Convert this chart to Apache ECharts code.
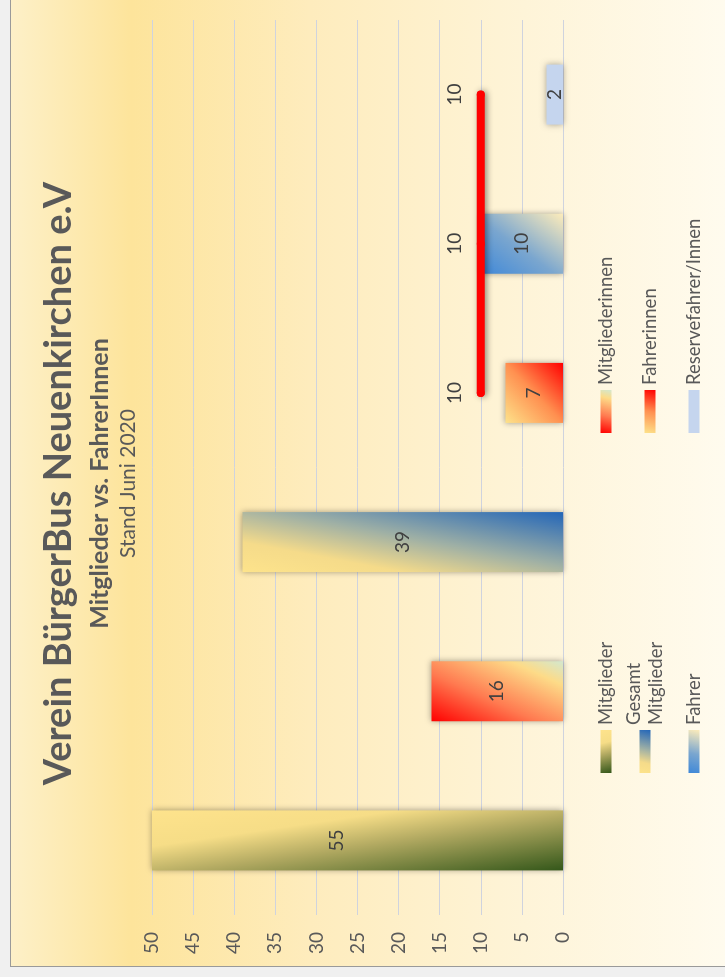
<!DOCTYPE html>
<html>
<head>
<meta charset="utf-8">
<script src="https://cdn.jsdelivr.net/npm/echarts@6/dist/echarts.min.js"></script>
<style>
html,body{margin:0;padding:0;background:#f0f0f0;width:725px;height:977px;overflow:hidden;}
#wrap{position:absolute;left:10px;top:967px;width:967px;height:715px;transform-origin:0 0;transform:rotate(-90deg);
  background:linear-gradient(to bottom,#fdf0c8 0%,#fde49b 17%,#feecbd 42%,#fef4d8 72%,#fffbee 100%);
  box-shadow:inset 1px 1px 0 #9a9a9a;}
#chart{width:967px;height:715px;}
</style>
</head>
<body>
<div id="wrap"><div id="chart"></div></div>
<script>
// ---- data ----
const categories = ['Mitglieder', 'Mitgliederinnen', 'Gesamt Mitglieder', 'Fahrerinnen', 'Fahrer', 'Reservefahrer/Innen'];
const values = [55, 16, 39, 7, 10, 2];
const lineValues = [null, null, null, 10, 10, 10];
const lineName = 'Ziel';
const axisMin = 0, axisMax = 50, axisStep = 5;
const titleText = 'Verein BürgerBus Neuenkirchen e.V';
const subTitleText = 'Mitglieder vs. FahrerInnen';
const dateText = 'Stand Juni 2020';

// ---- styles ----
const G = echarts.graphic.LinearGradient;
const BAR_W = 60, PLOT_H = 411;
const stopsList = [
  [{offset:0,color:'#fee38c'},{offset:0.3,color:'#f6dd87'},{offset:0.55,color:'#b3aa62'},{offset:1,color:'#34571a'}],
  [{offset:0,color:'#ff0000'},{offset:0.4,color:'#ff7a50'},{offset:0.8,color:'#fddb88'},{offset:1,color:'#d3e8cf'}],
  [{offset:0,color:'#fde38b'},{offset:0.25,color:'#f5db8a'},{offset:0.55,color:'#9fb0a5'},{offset:1,color:'#2366b8'}],
  [{offset:0,color:'#fde28a'},{offset:0.5,color:'#ff9050'},{offset:1,color:'#ff0000'}],
  [{offset:0,color:'#3f88d8'},{offset:0.45,color:'#7aa6cf'},{offset:1,color:'#fdecbb'}],
  null
];
const fromRight = [true, false, false, false, false, false];
const solid = '#c5d5ee';

// Excel-like "scaled" diagonal gradient for a bar of given pixel size
function diag(stops, w, h, rightStart) {
  const c = 2 / (1 / (w * w) + 1 / (h * h));
  const dx = c / (w * w), dy = c / (h * h);
  return rightStart ? new G(1, 0, 1 - dx, dy, stops) : new G(0, 0, dx, dy, stops);
}
function simple(stops, rightStart) {
  return rightStart ? new G(1, 0, 0, 1, stops) : new G(0, 0, 1, 1, stops);
}

const FONT = 'Lato';
const TXT = '#595959';

const barSeries = categories.map((name, i) => {
  const shown = Math.min(values[i], axisMax) - axisMin;
  const h = shown / (axisMax - axisMin) * PLOT_H;
  const over = Math.max(0, values[i] - axisMax) / (axisMax - axisMin) * PLOT_H;
  return {
    name: name,
    type: 'bar',
    barWidth: BAR_W,
    barGap: '-100%',
    data: categories.map((c, j) => j === i ? values[i] : null),
    itemStyle: { color: stopsList[i] ? diag(stopsList[i], BAR_W, h, fromRight[i]) : solid,
                 shadowBlur: 6, shadowColor: 'rgba(0,0,0,0.35)' },
    label: { show: true, position: 'inside', color: '#404040', fontFamily: FONT, fontSize: 19, offset: [0, -over / 2] },
    z: 2
  };
});

const legendItem = i => ({ name: categories[i], itemStyle: { color: stopsList[i] ? simple(stopsList[i], fromRight[i]) : solid } });

const lineSeries = {
  name: lineName,
  type: 'line',
  data: lineValues,
  symbol: 'circle',
  symbolSize: 8,
  itemStyle: { color: '#ff0000' },
  lineStyle: { color: '#ff0000', width: 8, cap: 'round', shadowBlur: 6, shadowColor: 'rgba(0,0,0,0.45)', shadowOffsetY: 2 },
  label: { show: true, position: 'top', distance: 12, color: '#404040', fontFamily: FONT, fontSize: 19 },
  z: 5
};

const legendBase = { orient: 'vertical', padding: 0, itemWidth: 43, itemHeight: 11, icon: 'rect' };

const chart = echarts.init(document.getElementById('chart'));
chart.setOption({
  animation: false,
  backgroundColor: 'transparent',
  title: [
    { text: titleText, left: 'center', top: 25, textStyle: { fontFamily: FONT, fontWeight: 'bold', fontSize: 38, color: TXT } },
    { text: subTitleText, left: 'center', top: 72, textStyle: { fontFamily: FONT, fontWeight: 'bold', fontSize: 25, color: TXT } },
    { text: dateText, left: 'center', top: 103, textStyle: { fontFamily: FONT, fontWeight: 'normal', fontSize: 21, color: TXT } }
  ],
  legend: [
    Object.assign({}, legendBase, { data: [legendItem(0), legendItem(4)], left: 194, top: 586, itemGap: 68,
      textStyle: { fontFamily: FONT, fontSize: 18.5, color: TXT, lineHeight: 20 } }),
    Object.assign({}, legendBase, { data: [legendItem(2)], left: 194, top: 604,
      formatter: n => n.replace(' ', '\n'),
      textStyle: { fontFamily: FONT, fontSize: 18.5, color: TXT, lineHeight: 22, padding: [0, 0, 18, 0] } }),
    Object.assign({}, legendBase, { data: [legendItem(1), legendItem(3), legendItem(5)], left: 534, top: 586, itemGap: 24,
      textStyle: { fontFamily: FONT, fontSize: 18.5, color: TXT, lineHeight: 20 } })
  ],
  grid: { left: 52, right: 20, top: 142, bottom: 162, containLabel: false },
  xAxis: {
    type: 'category',
    data: categories,
    axisLine: { show: false },
    axisTick: { show: false },
    axisLabel: { show: false }
  },
  yAxis: {
    type: 'value',
    min: axisMin, max: axisMax, interval: axisStep,
    axisLine: { show: false },
    axisTick: { show: false },
    axisLabel: { color: TXT, fontFamily: FONT, fontSize: 19, margin: 17 },
    splitLine: { lineStyle: { color: '#cfd3de', width: 1 } }
  },
  series: barSeries.concat([lineSeries])
});
</script>
</body>
</html>
